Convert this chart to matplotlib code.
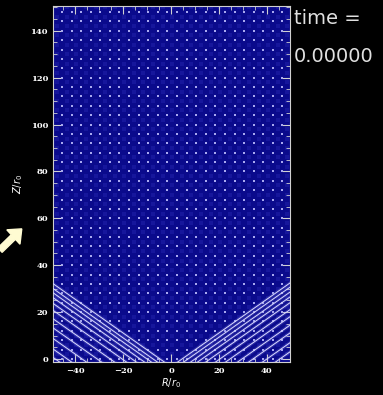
import numpy as np
import matplotlib
matplotlib.use('Agg')
import matplotlib.pyplot as plt

# field lines: crossing points on the R axis (z = 0) and common slope dz/dR
left_r0 = [-4.6, -7.5, -10.0, -12.9, -16.3, -20.4, -25.4, -30.8, -37.1, -43.3, -48.3]
right_r0 = [4.6, 7.1, 10.0, 12.9, 16.3, 20.4, 24.6, 29.6, 34.2, 40.0, 45.4]
slope = 0.72

# lattice of tracer points
grid_r = np.arange(-49.5, 50, 4.0)
grid_z = np.arange(0.0, 151, 4.0)

xticks = [-40, -20, 0, 20, 40]
yticks = [0, 20, 40, 60, 80, 100, 120, 140]
time_val = 0.0

xlim = (-49.3, 49.6)
ylim = (-1.3, 150.6)

fig = plt.figure(figsize=(3.83, 3.95), dpi=100, facecolor='black')
ax = fig.add_axes([0.138, 0.0835, 0.619, 0.9015])
ax.set_facecolor('#0a0a8c')

# faint texture between the tracer points
RR, ZZ = np.meshgrid(grid_r + 2.0, grid_z + 2.0)
ax.scatter(RR.ravel(), ZZ.ravel(), s=5, marker='s', color='#16169c', lw=0, zorder=1)
RR, ZZ = np.meshgrid(grid_r, grid_z)
ax.scatter(RR.ravel(), ZZ.ravel(), s=1.0, marker='s', color='#a8a8f0', lw=0, zorder=2)

rr = np.array([xlim[0], 0.0])
for r0 in left_r0:
    zz = -slope * (rr - r0)
    ax.plot(rr, zz, color='#8888ee', lw=2.4, alpha=0.25, zorder=3)
    ax.plot(rr, zz, color='#dcdcff', lw=0.7, zorder=4)
rr = np.array([0.0, xlim[1]])
for r0 in right_r0:
    zz = slope * (rr - r0)
    ax.plot(rr, zz, color='#8888ee', lw=2.4, alpha=0.25, zorder=3)
    ax.plot(rr, zz, color='#dcdcff', lw=0.7, zorder=4)

ax.set_xlim(*xlim)
ax.set_ylim(*ylim)
ax.set_xticks(xticks)
ax.set_yticks(yticks)
ax.set_xticks(np.arange(-45, 50, 5), minor=True)
ax.set_yticks(np.arange(0, 151, 5), minor=True)
ax.tick_params(which='both', direction='in', top=True, right=True,
               colors='#d0d0d0', labelcolor='white', labelsize=6)
ax.tick_params(which='major', length=6, width=0.8)
ax.tick_params(which='minor', length=3, width=0.6)
for lab in ax.get_xticklabels() + ax.get_yticklabels():
    lab.set_family('DejaVu Serif')
    lab.set_weight('bold')
for s in ax.spines.values():
    s.set_color('#d0d0d0')
    s.set_linewidth(0.8)

ax.set_xlabel(r'$R/r_0$', color='white', fontsize=7, labelpad=1)
ax.set_ylabel(r'$Z/r_0$', color='white', fontsize=7, labelpad=4)

fig.text(0.768, 0.954, 'time =', color='#e0e0e0', fontsize=14, va='center', ha='left')
fig.text(0.768, 0.858, '%.5f' % time_val, color='#e0e0e0', fontsize=14, va='center', ha='left')

# pointer on the left margin
fig.patches.append(matplotlib.patches.FancyArrow(
    0.0, 0.367, 0.035, 0.033, width=0.016, head_width=0.05, head_length=0.03,
    length_includes_head=False, color='#fffbd2', transform=fig.transFigure, figure=fig))

fig.savefig('out.png', dpi=100, facecolor='black')
